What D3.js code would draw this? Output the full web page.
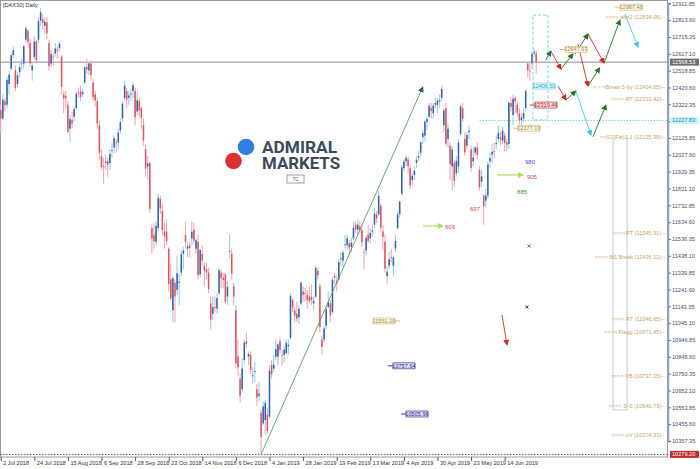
<!DOCTYPE html>
<html>
<head>
<meta charset="utf-8">
<title>DAX30 Daily</title>
<style>
  body { margin: 0; background: #fff; }
  svg { display: block; font-family: "Liberation Sans", Arial, sans-serif; }
</style>
</head>
<body>
<svg class="chart"></svg>
<script src="https://cdn.jsdelivr.net/npm/d3@7/dist/d3.min.js"></script>
<script>
var width = 700, height = 469
var plotRight = 667, plotBottom = 457

// daily bars, 2 Jul 2018 .. 5 Jul 2019
const opens = [12290,12240,12340,12320,12440,12530,12610,12520,12440,12510, 12560,12560,12700,12750,12680,12520,12600,12690,12700,12810, 12820,12780,12800,12680,12560,12600,12620,12640,12650,12600, 12380,12370,12320,12180,12230,12250,12300,12390,12400,12380, 12450,12540,12520,12560,12450,12380,12340,12200,12020,11960, 11980,11990,11980,12050,12070,12100,12100,12170,12240,12360, 12400,12360,12380,12400,12400,12280,12340,12300,12200,12060, 11960,11980,11600,11560,11520,11600,11770,11700,11580,11580, 11480,11300,11120,11280,11240,11280,11340,11450,11560,11480, 11500,11540,11590,11480,11520,11330,11450,11380,11360,11340, 11160,11100,11140,11130,11220,11340,11310,11330,11200,11460, 11450,11260,11120,10850,10720,10660,10830,10940,10850,10860, 10740,10760,10660,10620,10520,10460,10480,10510,10500,10800, 10780,10850,10850,10940,10860,10860,10870,10910,10960,11180, 11120,11100,11080,11160,11230,11220,11210,11200,11200,11160, 11200,11350,11260,10950,10950,11030,11140,11160,11110,11320, 11290,11300,11420,11410,11500,11500,11510,11490,11540,11620, 11590,11610,11590,11460,11470,11560,11540,11580,11620,11680, 11680,11730,11580,11520,11320,11380,11430,11380,11480,11600, 11680,11800,11950,11990,12000,11950,11880,11910,11980,12010, 12040,12130,12140,12220,12250,12300,12270,12320,12320,12340, 12360,12200,12300,12120,12080,11960,11980,11920,11960,12150, 12300,12120,12080,12160,12060,11990,12040,12070,11940,11870, 11790,11760,11790,11990,12030,12050,12090,12120,12130,12110, 12140,12100,12090,12330,12260,12360,12320,12270,12230,12240, 12300,12560,12520,12560,12620,12620]
const highs = [12320,12380,12360,12480,12520,12620,12660,12550,12510,12560, 12590,12670,12780,12760,12700,12570,12720,12700,12830,12886, 12850,12830,12830,12700,12640,12620,12680,12660,12690,12610, 12400,12400,12340,12260,12280,12310,12400,12420,12430,12410, 12550,12590,12570,12580,12470,12400,12360,12230,12060,12010, 12030,12010,12060,12100,12140,12120,12180,12240,12340,12460, 12420,12400,12410,12450,12420,12400,12360,12310,12240,12090, 12020,11990,11620,11630,11640,11800,11790,11740,11630,11650, 11490,11390,11320,11300,11440,11330,11470,11490,11640,11520, 11520,11640,11630,11540,11560,11480,11500,11400,11400,11370, 11200,11200,11200,11220,11370,11360,11340,11340,11290,11560, 11480,11280,11150,10950,10750,10840,10950,10990,10880,10880, 10790,10820,10690,10700,10540,10590,10600,10550,10800,10830, 10860,10950,10930,10960,10890,10910,10950,10950,11220,11190, 11140,11170,11150,11290,11260,11250,11240,11260,11270,11200, 11380,11370,11280,10970,11030,11140,11230,11180,11310,11340, 11320,11420,11460,11470,11560,11560,11530,11540,11640,11640, 11650,11640,11620,11480,11560,11620,11600,11620,11720,11700, 11820,11740,11620,11560,11380,11460,11480,11440,11560,11700, 11760,11970,12000,12030,12020,11970,11920,11960,12020,12050, 12110,12170,12230,12250,12330,12330,12330,12360,12360,12380, 12430,12300,12330,12210,12100,12080,12000,12020,12120,12320, 12330,12160,12160,12200,12080,12070,12080,12100,11960,11940, 11800,11830,11990,12040,12090,12100,12140,12200,12160,12190, 12160,12120,12340,12360,12380,12370,12340,12300,12270,12300, 12410,12570,12560,12630,12650,12640]
const lows = [12150,12230,12280,12300,12380,12520,12590,12400,12420,12480, 12520,12530,12680,12650,12540,12460,12580,12560,12680,12780, 12760,12730,12700,12520,12540,12550,12600,12590,12630,12380, 12270,12300,12150,12100,12180,12220,12290,12360,12340,12360, 12440,12500,12490,12460,12340,12310,12180,12000,11940,11860, 11940,11900,11940,12010,12040,12040,12060,12150,12220,12340, 12300,12320,12340,12360,12200,12260,12250,12180,12080,11900, 11880,11690,11450,11480,11500,11580,11680,11560,11480,11500, 11230,11180,11050,11050,11210,11150,11320,11360,11480,11430, 11430,11500,11510,11450,11300,11310,11380,11260,11300,11220, 11010,11060,11110,11100,11210,11250,11250,11160,11150,11420, 11300,11150,10780,10740,10580,10640,10810,10900,10800,10750, 10690,10700,10560,10590,10279.2,10450,10390,10400,10490,10720, 10760,10830,10800,10870,10800,10820,10860,10860,10950,11110, 11050,11050,11040,11150,11170,11170,11130,11160,11150,11120, 11190,11300,10990,10860,10930,11010,11130,11050,11100,11270, 11230,11290,11380,11380,11480,11470,11440,11460,11530,11570, 11560,11570,11490,11360,11440,11510,11510,11550,11600,11630, 11670,11580,11470,11340,11270,11360,11400,11320,11460,11590, 11660,11790,11930,11960,11920,11830,11850,11880,11950,11990, 12020,12090,12110,12170,12240,12240,12240,12300,12270,12300, 12340,12160,12080,12070,11880,11820,11840,11900,11920,12140, 12220,12020,12060,12120,11930,11960,12020,12000,11820,11840, 11620,11720,11770,11950,11980,12010,12060,12100,12080,12090, 12050,12050,12060,12280,12200,12270,12250,12200,12170,12220, 12280,12480,12460,12530,12600,12500]
const closes = [12238,12350,12317,12465,12496,12609,12638,12417,12492,12540, 12561,12661,12765,12686,12561,12548,12689,12579,12809,12860, 12798,12805,12737,12546,12615,12598,12648,12633,12676,12424, 12358,12358,12163,12237,12210,12295,12384,12385,12365,12394, 12538,12527,12561,12494,12364,12346,12210,12040,11955,11959, 11986,11970,12032,12055,12124,12096,12157,12219,12326,12431, 12350,12374,12385,12435,12247,12346,12287,12244,12111,11947, 11977,11712,11539,11524,11614,11777,11715,11589,11553,11524, 11274,11191,11307,11201,11336,11287,11447,11468,11519,11495, 11484,11579,11527,11529,11325,11472,11412,11353,11341,11244, 11066,11138,11136,11192,11354,11309,11298,11170,11257,11465, 11335,11200,10811,10788,10622,10780,10931,10924,10865,10772, 10740,10766,10611,10634,10382,10559,10580,10416,10768,10747, 10803,10893,10921,10888,10856,10891,10931,10919,11205,11136, 11090,11071,11130,11281,11210,11218,11181,11173,11180,11176, 11368,11324,11022,10906,11014,11126,11167,11089,11299,11309, 11277,11401,11423,11457,11505,11540,11487,11515,11602,11592, 11620,11588,11517,11458,11543,11524,11572,11587,11685,11657, 11788,11603,11549,11364,11346,11419,11428,11428,11526,11681, 11754,11954,11988,12010,11963,11850,11905,11935,11999,12020, 12101,12153,12222,12236,12314,12283,12315,12329,12344,12346, 12412,12286,12092,12180,11973,12059,11877,11992,12099,12310, 12238,12041,12143,12168,11952,12011,12071,12028,11837,11902, 11727,11790,11971,12008,12045,12045,12097,12155,12116,12169, 12096,12086,12331,12308,12355,12340,12274,12228,12245,12271, 12399,12522,12519,12617,12629,12568.53]

// axis labels
const xTickBars = [0, 16, 32, 48, 64, 80, 96, 112, 128, 144, 160, 176, 192, 208, 224, 240]
const xTickLabels = ["2 Jul 2018", "24 Jul 2018", "15 Aug 2018", "6 Sep 2018", "28 Sep 2018", "23 Oct 2018",
    "14 Nov 2018", "6 Dec 2018", "4 Jan 2019", "28 Jan 2019", "19 Feb 2019", "13 Mar 2019",
    "4 Apr 2019", "30 Apr 2019", "23 May 2019", "14 Jun 2019"]
const yTicks = [12911.85, 12813.60, 12715.35, 12617.10, 12518.85, 12420.60, 12322.35, 12224.10, 12125.85,
    12027.60, 11929.35, 11831.10, 11732.85, 11634.60, 11536.35, 11438.10, 11339.85, 11241.60, 11143.35,
    11045.10, 10946.85, 10848.60, 10750.35, 10652.10, 10553.85, 10455.60, 10357.35]

// drawn objects, in bar index / price
const levelLabels = [
    [12826, ">>>> ab=2 (12834.06)--"],
    [12423, "> > >Break 5-by (12404.65)--"],
    [12353, ">>>> RT (12331.42)--"],
    [12126, ">>ST(Fib)1.1 (12125.99)--"],
    [11566, ">>>>RT (11545.91)--"],
    [11426, ">>>> BS Break (11426.12)--"],
    [11069, ">>>> RT (11046.65)--"],
    [10993, ">>>> Flagg (10971.45)--"],
    [10731, ">>>> VB (10737.15)--"],
    [10560, ">>>> S-S (10540.73)--"],
    [10391, ">>>> cV (10374.33)--"]
]
const trendLine = [[124, 10279.2], [201, 12423]]
const pathArrows = [
    [259.5, 12580, 262, 12633, "g"], [262, 12633, 266.8, 12528, "r"], [266.8, 12528, 272.5, 12616, "g"],
    [273.5, 12616, 279.7, 12733, "g"], [279.7, 12733, 287.3, 12563, "r"], [287.3, 12563, 294.9, 12814, "g"],
    [297.3, 12849, 303.5, 12657, "c"], [274.9, 12674, 279.7, 12429, "r"], [279.7, 12429, 285.2, 12535, "g"],
    [265.4, 12429, 269.2, 12348, "r"], [269.2, 12348, 273.9, 12400, "g"], [273.9, 12400, 281.1, 12143, "c"],
    [282, 12132, 288.2, 12318, "g"], [238.7, 11094, 241.1, 10919, "r"],
    [201.1, 11612, 210.6, 11612, "l"], [236.3, 11910, 248.7, 11910, "l"]
]
const waveLabels = [[211.6, 11606, "609", "#c05454"], [250.6, 11898, "905", "#c05454"], [249.7, 11986, "980", "#4848c8"],
    [245.9, 11811, "885", "#3c9a3c"], [223.5, 11706, "697", "#c05454"]]
const crosses = [[251.6, 11496, "#d04848"], [250.6, 11140, "#303048"]]
const priceBoxes = [
    // bar, price, text, style, dash side
    [177.3, 11058, "11551.20", "tan", "right"],
    [186.8, 10796, "10757.64", "blue", "left"],
    [193.0, 10515, "10505.96", "blue", "left"],
    [246.3, 12183, "12177.19", "tan", "left"],
    [254.4, 12318, "12319.46", "red", "left"],
    [253.5, 12429, "12406.50", "cyan", "none"],
    [268.7, 12642, "12647.93", "tan", "left"],
    [295.0, 12889, "12987.46", "tan", "left"]
]
const cyanZone = [253.5, 260.6, 12843, 12231]
const boxLines = [291.6, 298.3, 12132, 10539]
const lastPrice = closes[closes.length - 1]
const cyanLevel = 12227.83
const lowLevel = 10279.20

var svg = d3.select(".chart").attr("width", width).attr("height", height)

var xScale = d3.scaleLinear().domain([0, 317.3]).range([0.7, plotRight])
var yScale = d3.scaleLinear().domain([10357.35, 12911.85]).range([441, 3.3])

// frame
svg.append("rect").attr("x", 0.5).attr("y", 0.5).attr("width", plotRight).attr("height", plotBottom - 0.5)
    .attr("fill", "none").attr("stroke", "#9a9a9a")

var fs = 5.6

// price lines
svg.append("line").attr("x1", 0).attr("x2", plotRight).attr("y1", yScale(lastPrice)).attr("y2", yScale(lastPrice))
    .attr("stroke", "#8c8c8c").attr("stroke-width", 1)
svg.append("line").attr("x1", 0).attr("x2", plotRight).attr("y1", yScale(lowLevel)).attr("y2", yScale(lowLevel))
    .attr("stroke", "#555").attr("stroke-dasharray", "1.5,1.5")
svg.append("line").attr("x1", xScale(228)).attr("x2", plotRight).attr("y1", yScale(cyanLevel)).attr("y2", yScale(cyanLevel))
    .attr("stroke", "#7fdcef").attr("stroke-dasharray", "1.5,1.5")

// candles
var bars = closes.map((c, i) => ({ i: i, o: opens[i], h: highs[i], l: lows[i], c: c }))
var cg = svg.append("g")
cg.selectAll("line").data(bars).enter().append("line")
    .attr("x1", d => xScale(d.i)).attr("x2", d => xScale(d.i))
    .attr("y1", d => yScale(d.h)).attr("y2", d => yScale(d.l))
    .attr("stroke", d => d.c >= d.o ? "#a6c8ea" : "#f2aaae").attr("stroke-width", 1.1)
cg.selectAll("rect").data(bars).enter().append("rect")
    .attr("x", d => xScale(d.i) - 0.75).attr("width", 1.5)
    .attr("y", d => yScale(Math.max(d.o, d.c)))
    .attr("height", d => Math.max(0.8, Math.abs(yScale(d.o) - yScale(d.c))))
    .attr("fill", d => d.c >= d.o ? "#2c62ab" : "#e0525c")

// arrow markers
var colors = { g: "#1f7424", r: "#d42626", c: "#3cc8e8", l: "#a8e060", t: "#1f6a24" }
var defs = svg.append("defs")
Object.keys(colors).forEach(k => {
    defs.append("marker").attr("id", "ah-" + k)
        .attr("markerUnits", "userSpaceOnUse").attr("markerWidth", 6).attr("markerHeight", 6)
        .attr("refX", 5).attr("refY", 3).attr("orient", "auto")
        .append("path").attr("d", "M0,0 L6,3 L0,6 Z").attr("fill", colors[k])
})

// trend line from the December low
svg.append("line")
    .attr("x1", xScale(trendLine[0][0])).attr("y1", yScale(trendLine[0][1]))
    .attr("x2", xScale(trendLine[1][0])).attr("y2", yScale(trendLine[1][1]))
    .attr("stroke", "#5f9e5f").attr("stroke-width", 0.9).attr("marker-end", "url(#ah-t)")

// projected path
svg.append("g").selectAll("line").data(pathArrows).enter().append("line")
    .attr("x1", d => xScale(d[0])).attr("y1", d => yScale(d[1]))
    .attr("x2", d => xScale(d[2])).attr("y2", d => yScale(d[3]))
    .attr("stroke", d => colors[d[4]]).attr("stroke-width", d => d[4] == "l" ? 1.2 : 0.9)
    .attr("marker-end", d => "url(#ah-" + d[4] + ")")

// cyan zone
svg.append("rect")
    .attr("x", xScale(cyanZone[0])).attr("y", yScale(cyanZone[2]))
    .attr("width", xScale(cyanZone[1]) - xScale(cyanZone[0])).attr("height", yScale(cyanZone[3]) - yScale(cyanZone[2]))
    .attr("fill", "none").attr("stroke", "#6fd6ee").attr("stroke-dasharray", "3,2")

// gray box lines
var bl = svg.append("g").attr("stroke", "#c4ccd4").attr("fill", "none")
bl.append("path").attr("d", `M${xScale(boxLines[0])},${yScale(boxLines[2])} V${yScale(boxLines[3])} H${xScale(boxLines[1])} V${yScale(boxLines[2])}`)

// wave labels, crosses
svg.append("g").selectAll("text").data(waveLabels).enter().append("text")
    .attr("x", d => xScale(d[0])).attr("y", d => yScale(d[1]))
    .attr("dominant-baseline", "middle").attr("font-size", 6).attr("fill", d => d[3]).text(d => d[2])
svg.append("g").selectAll("path").data(crosses).enter().append("path")
    .attr("d", d => { var x = xScale(d[0]), y = yScale(d[1]); return `M${x - 1.5},${y - 1.5}L${x + 1.5},${y + 1.5}M${x - 1.5},${y + 1.5}L${x + 1.5},${y - 1.5}` })
    .attr("stroke", d => d[2]).attr("stroke-width", 1)

// level labels on the right
svg.append("g").selectAll("text").data(levelLabels).enter().append("text")
    .attr("x", plotRight - 2).attr("y", d => yScale(d[0]))
    .attr("text-anchor", "end").attr("dominant-baseline", "middle")
    .attr("font-size", fs).attr("fill", "#c8a46c").text(d => d[1])

// price boxes
var boxStyle = {
    tan: { fill: "#fdf6e2", stroke: "#d8bc88", text: "#a88850" },
    blue: { fill: "#e4e4fa", stroke: "#3c3c90", text: "#2a2a80" },
    red: { fill: "#fbe2e2", stroke: "#c03838", text: "#b02020" },
    cyan: { fill: "#e6fbff", stroke: "#6fd6ee", text: "#2aa0c0" }
}
var pb = svg.append("g")
priceBoxes.forEach(d => {
    var s = boxStyle[d[3]], x = xScale(d[0]), y = yScale(d[1]), w = 22, h = 6
    if (d[4] == "left") pb.append("line").attr("x1", x - 5).attr("x2", x).attr("y1", y).attr("y2", y).attr("stroke", s.stroke)
    if (d[4] == "right") pb.append("line").attr("x1", x + w).attr("x2", x + w + 5).attr("y1", y).attr("y2", y).attr("stroke", s.stroke)
    pb.append("rect").attr("x", x).attr("y", y - h / 2).attr("width", w).attr("height", h)
        .attr("fill", s.fill).attr("stroke", s.stroke).attr("stroke-width", 0.7)
    pb.append("text").attr("x", x + w / 2).attr("y", y + 0.3).attr("text-anchor", "middle")
        .attr("dominant-baseline", "middle").attr("font-size", fs).attr("fill", s.text).text(d[2])
})

// right axis
var yAxis = svg.append("g").attr("transform", `translate(${plotRight + 1},0)`)
    .call(d3.axisRight(yScale).tickValues(yTicks).tickSize(3).tickFormat(d3.format(".2f")))
yAxis.select(".domain").attr("stroke", "#8ea6c6").attr("stroke-width", 1.5)
yAxis.selectAll(".tick line").attr("stroke", "#6a7a90")
yAxis.selectAll("text").attr("font-size", fs).attr("fill", "#44506a").attr("x", 4)

var axisBoxes = [[lastPrice, "#6e6e6e", "#fff"], [cyanLevel, "#c8f4fc", "#2a8aa8"], [lowLevel, "#c42a2a", "#fff"]]
axisBoxes.forEach(d => {
    var y = yScale(d[0])
    svg.append("rect").attr("x", plotRight + 3).attr("y", y - 3.5).attr("width", 29).attr("height", 7).attr("fill", d[1])
    svg.append("text").attr("x", plotRight + 5).attr("y", y + 0.3).attr("dominant-baseline", "middle")
        .attr("font-size", fs).attr("fill", d[2]).text(d3.format(".2f")(d[0]))
})

// bottom axis
var xAxis = svg.append("g").attr("transform", `translate(0,${plotBottom})`)
    .call(d3.axisBottom(xScale).tickValues(xTickBars).tickSize(4).tickFormat((d, i) => xTickLabels[i]))
xAxis.select(".domain").remove()
xAxis.selectAll(".tick line").attr("stroke", "#555")
xAxis.selectAll("text").attr("font-size", fs).attr("fill", "#333").attr("text-anchor", "start").attr("x", 2).attr("y", 4)

// title
svg.append("text").attr("x", 3).attr("y", 7).attr("font-size", fs).attr("fill", "#333").text("[DAX30] Daily")

// watermark
var logo = svg.append("g")
logo.append("circle").attr("cx", 246).attr("cy", 147).attr("r", 8.3).attr("fill", "#2f7fe2")
logo.append("circle").attr("cx", 233.5).attr("cy", 161).attr("r", 8.3).attr("fill", "#dc3030")
logo.append("text").attr("x", 262).attr("y", 153).attr("font-family", "Roboto").attr("font-weight", "bold")
    .attr("font-size", 16.5).attr("fill", "#3b4a60").attr("textLength", 75).attr("lengthAdjust", "spacingAndGlyphs").text("ADMIRAL")
logo.append("text").attr("x", 262).attr("y", 169).attr("font-family", "Roboto").attr("font-weight", "bold")
    .attr("font-size", 16.5).attr("fill", "#3b4a60").attr("textLength", 78).attr("lengthAdjust", "spacingAndGlyphs").text("MARKETS")
logo.append("rect").attr("x", 287).attr("y", 175).attr("width", 17).attr("height", 8)
    .attr("fill", "#fff").attr("stroke", "#7a86a8").attr("stroke-width", 0.8)
logo.append("text").attr("x", 295.5).attr("y", 179.5).attr("text-anchor", "middle").attr("dominant-baseline", "middle")
    .attr("font-size", 4.5).attr("fill", "#4a5680").text("TC")
</script>
</body>
</html>
